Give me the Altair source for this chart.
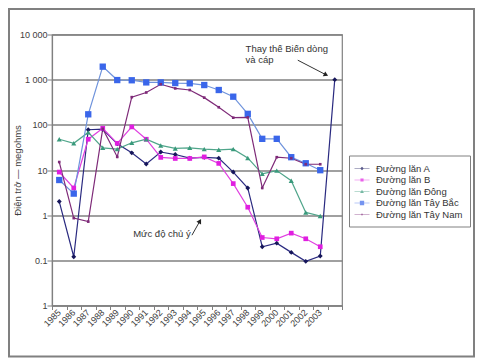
import altair as alt
import pandas as pd

# ---- data ----
years = list(range(1985, 2005))  # 2004 is the unlabeled last category
series_names = ["Đường lăn A", "Đường lăn B", "Đường lăn Đông", "Đường lăn Tây Bắc", "Đường lăn Tây Nam"]
vals_A = [2.0, 0.12, 78, 80, 38, 24, 13.6, 25, 22, 18.3, 19, 18.3, 9, 4.0, 0.20, 0.24, 0.15, 0.095, 0.125, 1000]
vals_B = [9, 4, 48, 84, 39, 90, 48, 19, 18, 18, 19.5, 14, 5, 1.5, 0.32, 0.30, 0.40, 0.30, 0.20, None]
vals_Dong = [48, 39, 68, 31, 29, 40, 48, 35, 30, 31, 29, 28, 29, 18.5, 8.2, 9.7, 5.8, 1.15, 0.96, None]
vals_TayBac = [6, 3, 171, 1940, 980, 970, 870, 870, 840, 830, 760, 590, 420, 175, 49, 49, 19.2, 14.1, 9.9, None]
vals_TayNam = [15, 0.86, 0.72, 82, 19.5, 410, 520, 790, 640, 590, 400, 245, 144, 146, 4.0, 19.2, 18.2, 13.4, 13.4, None]

colors = ["#16165a", "#e01ee0", "#3a9a7c", "#3a66ea", "#7e2a78"]
line_colors = ["#2a2a80", "#e040e0", "#4fa58a", "#6f93dc", "#7e2a78"]
marker_shapes = ["diamond", "square", "triangle-up", "square", "square"]
marker_sizes = [24, 22, 26, 40, 7]

y_tick_values = [0.01, 0.1, 1, 10, 100, 1000, 10000]
y_tick_labels = ["1", "0.1", "1", "10", "100", "1 000", "10 000"]
x_tick_bounds = [y - 0.5 for y in range(1985, 2006)]

ann1_lines = ["Thay thế Biến dòng", "và cáp"]
ann2_text = "Mức độ chủ ý"

all_vals = [vals_A, vals_B, vals_Dong, vals_TayBac, vals_TayNam]
rows = []
for name, vals in zip(series_names, all_vals):
    for yr, v in zip(years, vals):
        if v is not None:
            rows.append({"year": yr, "value": v, "series": name})
df = pd.DataFrame(rows)

FONT = "Liberation Sans"
GRAY = "#808080"

label_expr = " : ".join(
    [f"datum.value == {v} ? '{l}'" for v, l in zip(y_tick_values, y_tick_labels)]
) + " : ''"

x_scale = alt.Scale(domain=[1984.5, 2004.5], nice=False, zero=False)
y_scale = alt.Scale(type="log", domain=[0.01, 10000], nice=False)

x_axis = alt.Axis(
    values=x_tick_bounds, labelExpr="datum.value < 2003 ? '' + (datum.value + 0.5) : ''",
    labelAngle=315, labelAlign="right", labelBaseline="middle", labelOffset=7,
    labelFontSize=9, labelColor="#404040", labelFont=FONT, labelOverlap=False, labelFlush=False,
    labelPadding=1, tickSize=4, tickColor=GRAY, domainColor=GRAY, domainWidth=1.2,
    grid=False, title=None,
)
y_axis = alt.Axis(
    values=y_tick_values, labelExpr=label_expr, labelFontSize=9, labelColor="#404040",
    labelFont=FONT, labelPadding=0, tickSize=5, tickColor=GRAY, domainColor=GRAY, domainWidth=1.2,
    grid=True, gridColor=GRAY, gridWidth=1.5, labelFlush=False, labelOverlap=False,
    title="Điện trở — megohms", titleFont=FONT, titleFontSize=9.5, titleFontWeight="normal",
    titleColor="#404040", titlePadding=-3,
)

base = alt.Chart(df)
layers = []
# axes carrier
layers.append(
    base.mark_line(opacity=0).encode(
        x=alt.X("year:Q", scale=x_scale, axis=x_axis),
        y=alt.Y("value:Q", scale=y_scale, axis=y_axis),
        detail="series:N",
    )
)
for i, name in enumerate(series_names):
    sub = base.transform_filter(alt.datum.series == name)
    layers.append(
        sub.mark_line(color=line_colors[i], strokeWidth=1.2).encode(
            x=alt.X("year:Q", scale=x_scale, axis=x_axis),
            y=alt.Y("value:Q", scale=y_scale, axis=y_axis),
        )
    )
for i, name in enumerate(series_names):
    sub = base.transform_filter(alt.datum.series == name)
    layers.append(
        sub.mark_point(shape=marker_shapes[i], filled=True, color=colors[i], size=marker_sizes[i], opacity=1).encode(
            x=alt.X("year:Q", scale=x_scale, axis=x_axis),
            y=alt.Y("value:Q", scale=y_scale, axis=y_axis),
        )
    )

# legend layer (no visible data, legend only)
line_part = "M-1.25,-0.06L1.25,-0.06L1.25,0.06L-1.25,0.06Z"
legend_paths = [
    line_part + "M0,-0.3L0.3,0L0,0.3L-0.3,0Z",
    line_part + "M-0.26,-0.26L0.26,-0.26L0.26,0.26L-0.26,0.26Z",
    line_part + "M0,-0.3L0.32,0.26L-0.32,0.26Z",
    line_part + "M-0.36,-0.36L0.36,-0.36L0.36,0.36L-0.36,0.36Z",
    line_part + "M-0.14,-0.14L0.14,-0.14L0.14,0.14L-0.14,0.14Z",
]
legend = alt.Legend(
    title=None, orient="none", legendX=297, legendY=121, padding=7,
    strokeColor=GRAY, fillColor="white",
    labelFont=FONT, labelFontSize=9.5, labelColor="#333333", labelOffset=8,
    symbolSize=144, symbolStrokeWidth=0, rowPadding=0.5, labelLimit=200,
)
layers.append(
    base.transform_filter("datum.value < 0").mark_point(filled=True).encode(
        x=alt.X("year:Q", scale=x_scale, axis=x_axis),
        y=alt.Y("value:Q", scale=y_scale, axis=y_axis),
        color=alt.Color("series:N", scale=alt.Scale(domain=series_names, range=colors), legend=legend),
        shape=alt.Shape("series:N", scale=alt.Scale(domain=series_names, range=legend_paths), legend=legend),
    )
)

# annotations
ann1 = pd.DataFrame({"year": [1997.85], "value": [6300], "txt": [ann1_lines]})
layers.append(
    alt.Chart(ann1).mark_text(align="left", baseline="top", font=FONT, fontSize=9.5, color="#333333", lineHeight=11).encode(
        x=alt.X("year:Q", scale=x_scale, axis=x_axis), y=alt.Y("value:Q", scale=y_scale, axis=y_axis), text="txt"
    )
)
arrow1 = pd.DataFrame({"x1": [2001.45], "y1": [2700], "x2": [2003.4], "y2": [1280]})
layers.append(
    alt.Chart(arrow1).mark_rule(color="#333333", strokeWidth=1).encode(
        x=alt.X("x1:Q", scale=x_scale, axis=x_axis), y=alt.Y("y1:Q", scale=y_scale, axis=y_axis),
        x2="x2:Q", y2="y2:Q",
    )
)
layers.append(
    alt.Chart(arrow1).mark_point(shape="triangle-up", filled=True, color="#222222", size=28, angle=117, opacity=1).encode(
        x=alt.X("x2:Q", scale=x_scale, axis=x_axis), y=alt.Y("y2:Q", scale=y_scale, axis=y_axis)
    )
)
ann2 = pd.DataFrame({"year": [1990.1], "value": [0.39], "txt": [ann2_text]})
layers.append(
    alt.Chart(ann2).mark_text(align="left", baseline="middle", font=FONT, fontSize=9.5, color="#333333").encode(
        x=alt.X("year:Q", scale=x_scale, axis=x_axis), y=alt.Y("value:Q", scale=y_scale, axis=y_axis), text="txt"
    )
)
arrow2 = pd.DataFrame({"x1": [1994.15], "y1": [0.36], "x2": [1994.7], "y2": [0.74]})
layers.append(
    alt.Chart(arrow2).mark_rule(color="#333333", strokeWidth=1).encode(
        x=alt.X("x1:Q", scale=x_scale, axis=x_axis), y=alt.Y("y1:Q", scale=y_scale, axis=y_axis),
        x2="x2:Q", y2="y2:Q",
    )
)
layers.append(
    alt.Chart(arrow2).mark_point(shape="triangle-up", filled=True, color="#222222", size=28, angle=30, opacity=1).encode(
        x=alt.X("x2:Q", scale=x_scale, axis=x_axis), y=alt.Y("y2:Q", scale=y_scale, axis=y_axis)
    )
)
# outer frame (decoration)
layers.append(
    alt.Chart(pd.DataFrame({"a": [0]})).mark_rect(fill=None, stroke=GRAY, strokeWidth=2).encode(
        x=alt.value(-43), x2=alt.value(422), y=alt.value(-25.5), y2=alt.value(322)
    )
)

chart = alt.layer(*layers).properties(
    width=290, height=271,
    autosize=alt.AutoSizeParams(type="none"),
    padding={"left": 44, "top": 26.5, "right": 133, "bottom": 53},
).configure_view(stroke=GRAY, strokeWidth=1.2).configure_axis(
    labelOverlap=False, labelFlush=False
)

chart.save("out.html", embed_options={"renderer": "svg", "actions": False})
